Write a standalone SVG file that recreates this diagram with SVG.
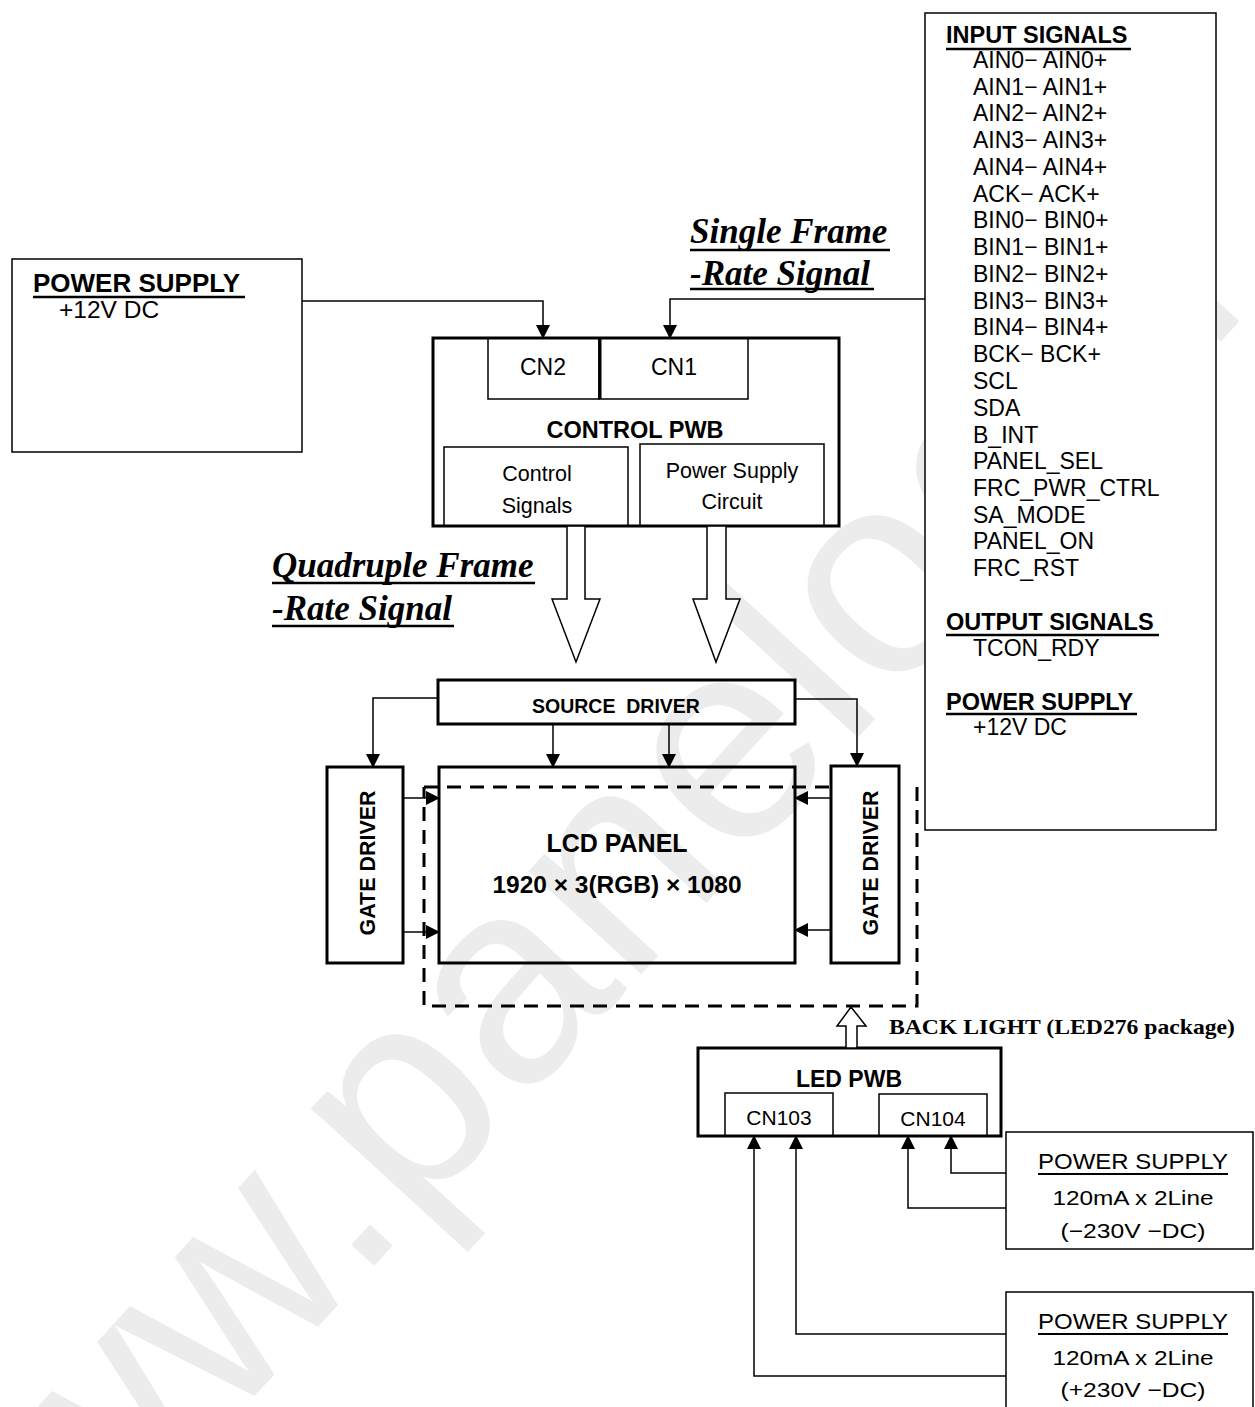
<svg xmlns="http://www.w3.org/2000/svg" width="1255" height="1407" viewBox="0 0 1255 1407">
<defs>
<style>
text{font-family:"Liberation Sans",Arial,"Noto Sans CJK JP",sans-serif;fill:#000}
.b{font-weight:bold}
.c{text-anchor:middle}
.bi{font-family:"Liberation Serif","Times New Roman",serif;font-weight:bold;font-style:italic;font-size:35px}
.ser{font-family:"Liberation Serif","Times New Roman",serif;font-weight:bold}
.box{fill:none;stroke:#000;stroke-width:1.5}
.tbox{fill:none;stroke:#000;stroke-width:3}
.ar{fill:none;stroke:#000;stroke-width:1.5;marker-end:url(#ah)}
.ul{stroke:#000;stroke-width:2.5}
.blk{fill:#fff;stroke:#000;stroke-width:1.5;stroke-linejoin:miter}
.dash{fill:none;stroke:#000;stroke-width:3;stroke-dasharray:14 9}
.wm{fill:#ececec}
.sig{font-size:23px}
.hd{font-size:23.5px;font-weight:bold}
</style>
<marker id="ah" markerUnits="userSpaceOnUse" markerWidth="14" markerHeight="14" refX="13" refY="7" orient="auto">
<path d="M0,0 L14,7 L0,14 z" fill="#000"/>
</marker>
</defs>
<rect width="1255" height="1407" fill="#fff"/>

<g id="watermark">
<text class="wm" x="0" y="0" font-size="289" transform="translate(-56,1735) rotate(-47.5)">www.panelook.</text>
</g>

<g id="power-supply-12v">
<rect class="box" x="12" y="259" width="290" height="193" fill="#fff" style="fill:#fff"/>
<text class="b" x="33" y="292" font-size="26">POWER SUPPLY</text>
<line class="ul" x1="33" y1="297" x2="245" y2="297"/>
<text x="59" y="318" font-size="24.5">+12V DC</text>
</g>

<g id="single-frame-label">
<text class="bi" x="690" y="243">Single Frame</text>
<line class="ul" x1="690" y1="250" x2="890" y2="250"/>
<text class="bi" x="690" y="285">-Rate Signal</text>
<line class="ul" x1="690" y1="289" x2="874" y2="289"/>
</g>

<g id="control-pwb">
<rect class="tbox" x="433" y="338" width="406" height="188"/>
<rect class="box" x="488" y="338" width="111" height="61"/>
<rect class="box" x="599" y="338" width="149" height="61"/>
<line x1="600" y1="338" x2="600" y2="399" stroke="#000" stroke-width="3"/>
<text class="c" x="543" y="375" font-size="23">CN2</text>
<text class="c" x="674" y="375" font-size="23">CN1</text>
<text class="b c" x="635" y="438" font-size="23.5">CONTROL PWB</text>
<rect class="box" x="444" y="447" width="184" height="79"/>
<text class="c" x="537" y="481" font-size="21.5">Control</text>
<text class="c" x="537" y="513" font-size="21.5">Signals</text>
<rect class="box" x="640" y="444" width="184" height="82"/>
<text class="c" x="732" y="478" font-size="21.5">Power Supply</text>
<text class="c" x="732" y="509" font-size="21.5">Circuit</text>
</g>

<g id="quadruple-frame-label">
<text class="bi" x="272" y="577">Quadruple Frame</text>
<line class="ul" x1="272" y1="583" x2="535" y2="583"/>
<text class="bi" x="272" y="620">-Rate Signal</text>
<line class="ul" x1="272" y1="626" x2="454" y2="626"/>
</g>

<g id="source-driver">
<rect class="tbox" x="438" y="680" width="357" height="44"/>
<text class="b c" x="616" y="713" font-size="19.5" xml:space="preserve">SOURCE  DRIVER</text>
</g>

<g id="gate-driver-left">
<rect class="tbox" x="327" y="767" width="76" height="196"/>
<text class="b c" x="0" y="0" font-size="22" textLength="145" lengthAdjust="spacingAndGlyphs" transform="translate(375,863) rotate(-90)">GATE DRIVER</text>
</g>

<g id="lcd-panel">
<rect class="tbox" x="439" y="767" width="356" height="196"/>
<text class="b c" x="617" y="852" font-size="25">LCD PANEL</text>
<text class="b c" x="617" y="893" font-size="24.5">1920 × 3(RGB) × 1080</text>
</g>

<g id="backlight-area">
<path class="dash" d="M424,787 H831"/>
<path class="dash" d="M917,787 V1006 H424 V787"/>
</g>

<g id="gate-driver-right">
<rect class="tbox" x="831" y="766" width="68" height="197"/>
<text class="b c" x="0" y="0" font-size="22" textLength="145" lengthAdjust="spacingAndGlyphs" transform="translate(878,863) rotate(-90)">GATE DRIVER</text>
</g>

<g id="input-signals">
<rect x="925" y="13" width="291" height="817" fill="#fff" stroke="#000" stroke-width="1.5"/>
<text class="hd" x="946" y="43">INPUT SIGNALS</text>
<line class="ul" x1="946" y1="49" x2="1131" y2="49"/>
<g class="sig">
<text x="973" y="68">AIN0− AIN0+</text>
<text x="973" y="95">AIN1− AIN1+</text>
<text x="973" y="121">AIN2− AIN2+</text>
<text x="973" y="148">AIN3− AIN3+</text>
<text x="973" y="175">AIN4− AIN4+</text>
<text x="973" y="202">ACK− ACK+</text>
<text x="973" y="228">BIN0− BIN0+</text>
<text x="973" y="255">BIN1− BIN1+</text>
<text x="973" y="282">BIN2− BIN2+</text>
<text x="973" y="309">BIN3− BIN3+</text>
<text x="973" y="335">BIN4− BIN4+</text>
<text x="973" y="362">BCK− BCK+</text>
<text x="973" y="389">SCL</text>
<text x="973" y="416">SDA</text>
<text x="973" y="443">B_INT</text>
<text x="973" y="469">PANEL_SEL</text>
<text x="973" y="496">FRC_PWR_CTRL</text>
<text x="973" y="523">SA_MODE</text>
<text x="973" y="549">PANEL_ON</text>
<text x="973" y="576">FRC_RST</text>
</g>
<text class="hd" x="946" y="630">OUTPUT SIGNALS</text>
<line class="ul" x1="946" y1="635" x2="1159" y2="635"/>
<text class="sig" x="973" y="656">TCON_RDY</text>
<text class="hd" x="946" y="710">POWER SUPPLY</text>
<line class="ul" x1="946" y1="714" x2="1137" y2="714"/>
<text class="sig" x="973" y="735">+12V DC</text>
</g>

<g id="led-pwb">
<rect class="tbox" x="698" y="1048" width="303" height="88"/>
<text class="b c" x="849" y="1087" font-size="23">LED PWB</text>
<rect class="box" x="725" y="1093" width="108" height="43"/>
<text class="c" x="779" y="1125" font-size="21">CN103</text>
<rect class="box" x="879" y="1094" width="108" height="42"/>
<text class="c" x="933" y="1126" font-size="21">CN104</text>
</g>

<g id="backlight-label">
<text class="ser" x="889" y="1034" font-size="22" textLength="346" lengthAdjust="spacingAndGlyphs">BACK LIGHT (LED276 package)</text>
</g>

<g id="power-supply-minus230">
<rect class="box" x="1006" y="1132" width="247" height="117"/>
<text class="c" x="1133" y="1169" font-size="22" textLength="190" lengthAdjust="spacingAndGlyphs">POWER SUPPLY</text>
<line x1="1038" y1="1174" x2="1228" y2="1174" stroke="#000" stroke-width="2"/>
<text class="c" x="1133" y="1205" font-size="21" textLength="161" lengthAdjust="spacingAndGlyphs">120mA x 2Line</text>
<text class="c" x="1133" y="1238" font-size="21" textLength="145" lengthAdjust="spacingAndGlyphs">(−230V −DC)</text>
</g>

<g id="power-supply-plus230">
<rect class="box" x="1006" y="1292" width="247" height="125"/>
<text class="c" x="1133" y="1329" font-size="22" textLength="190" lengthAdjust="spacingAndGlyphs">POWER SUPPLY</text>
<line x1="1038" y1="1334" x2="1228" y2="1334" stroke="#000" stroke-width="2"/>
<text class="c" x="1133" y="1365" font-size="21" textLength="161" lengthAdjust="spacingAndGlyphs">120mA x 2Line</text>
<text class="c" x="1133" y="1397" font-size="21" textLength="145" lengthAdjust="spacingAndGlyphs">(+230V −DC)</text>
</g>

<g id="connectors">
<path class="ar" d="M302,301 H543 V338"/>
<path class="ar" d="M925,299 H670 V338"/>
<polygon class="blk" points="567,526 585,526 585,599 600,599 576,662 552,599 567,599"/>
<polygon class="blk" points="707,526 726,526 726,599 740,599 716,662 693,599 707,599"/>
<path class="ar" d="M438,698 H373 V767"/>
<path class="ar" d="M795,699 H857 V766"/>
<path class="ar" d="M553,724 V767"/>
<path class="ar" d="M669,724 V767"/>
<path class="ar" d="M403,798 H439"/>
<path class="ar" d="M403,932 H439"/>
<path class="ar" d="M831,798 H795"/>
<path class="ar" d="M831,930 H795"/>
<polygon class="blk" points="846,1048 857,1048 857,1026 866,1026 851,1007 837,1026 846,1026"/>
<path class="ar" d="M1006,1173 H951 V1136"/>
<path class="ar" d="M1006,1208 H908 V1136"/>
<path class="ar" d="M1006,1334 H796 V1136"/>
<path class="ar" d="M1006,1376 H754 V1136"/>
</g>
</svg>
